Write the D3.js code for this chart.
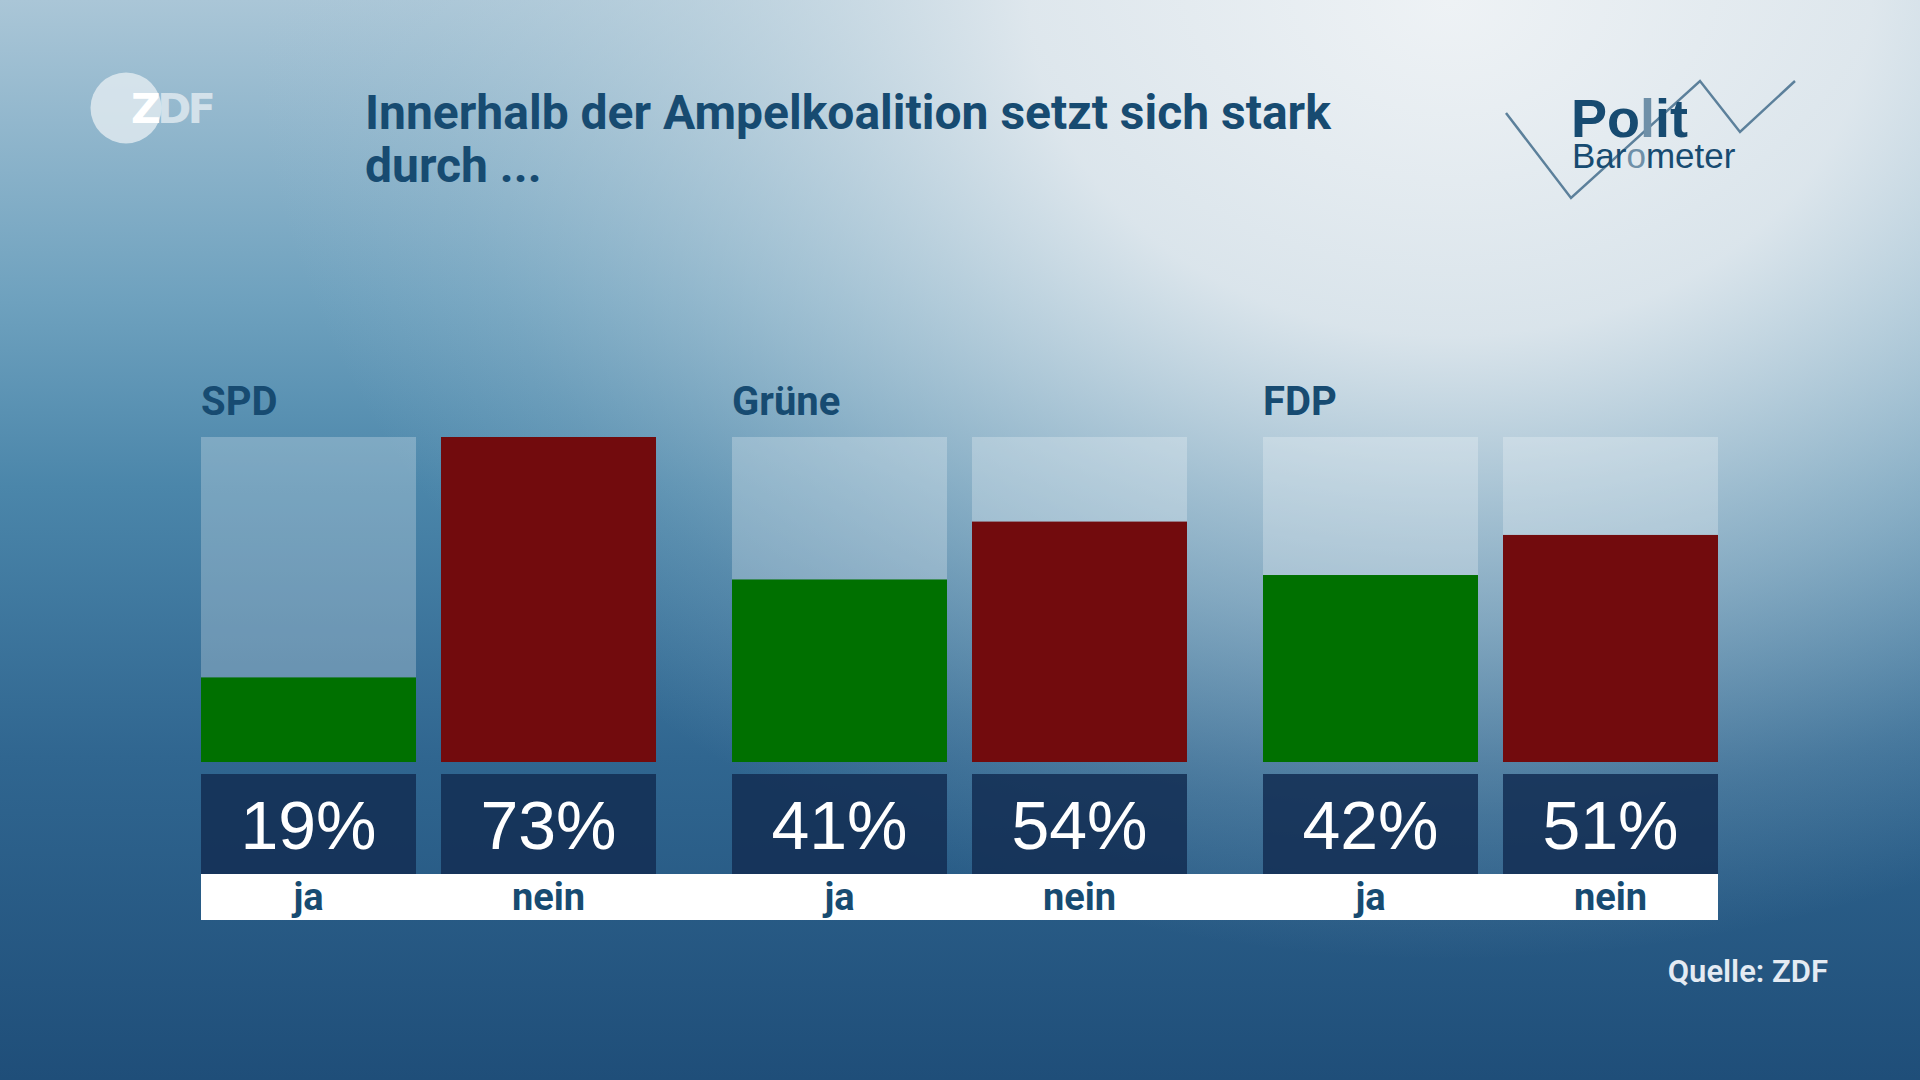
<!DOCTYPE html>
<html>
<head>
<meta charset="utf-8">
<script src="https://cdn.jsdelivr.net/npm/d3@7"></script>
<style>
html,body{margin:0;padding:0;background:#4a83a7;}
svg{display:block;}
</style>
</head>
<body>
<svg id="chart" width="1920" height="1080"></svg>
<script>
// ---- data ----
const parties = ["SPD", "Grüne", "FDP"];
const answers = ["ja", "nein"];
const jaValues = [19, 41, 42];
const neinValues = [73, 54, 51];
const titleLines = ["Innerhalb der Ampelkoalition setzt sich stark", "durch ..."];
const sourceText = "Quelle: ZDF";

const svg = d3.select("#chart");
const W = 1920, H = 1080;
const defs = svg.append("defs");

// background gradients
const base = defs.append("linearGradient").attr("id", "bgBase")
  .attr("x1", 0).attr("y1", 0).attr("x2", 0).attr("y2", 1);
[[0, "#aac6d7"], [0.28, "#6ea1be"], [0.45, "#4b86aa"], [0.7, "#306690"], [1, "#1f4e79"]]
  .forEach(([o, c]) => base.append("stop").attr("offset", o).attr("stop-color", c));

const rad = defs.append("radialGradient").attr("id", "bgGlow")
  .attr("gradientUnits", "userSpaceOnUse")
  .attr("cx", 1450).attr("cy", 0).attr("r", 1200)
  .attr("gradientTransform", "translate(1450,0) scale(1,0.8) translate(-1450,0)");
[[0, "#eef2f5", 1], [0.35, "#e3eaef", 0.92], [0.65, "#c6d8e2", 0.5], [0.85, "#b5cdda", 0.18], [1, "#a9c5d6", 0]]
  .forEach(([o, c, a]) => rad.append("stop").attr("offset", o).attr("stop-color", c).attr("stop-opacity", a));

svg.append("rect").attr("width", W).attr("height", H).attr("fill", "url(#bgBase)");
svg.append("rect").attr("width", W).attr("height", H).attr("fill", "url(#bgGlow)");

const textBlue = "#174b71";

// ---- ZDF logo ----
const logo = svg.append("g");
logo.append("circle").attr("cx", 126).attr("cy", 108).attr("r", 35.5)
  .attr("fill", "#e4ecf1").attr("opacity", 0.8);
logo.append("text").attr("x", 131).attr("y", 123)
  .attr("font-family", "DejaVu Sans").attr("font-weight", 700).attr("font-size", 41)
  .attr("letter-spacing", -3.5)
  .selectAll("tspan").data([["Z", "#ffffff", 1], ["DF", "#e8eff4", 0.75]]).join("tspan")
  .attr("fill", d => d[1]).attr("fill-opacity", d => d[2]).text(d => d[0]);

// ---- title ----
svg.append("g").selectAll("text").data(titleLines).join("text")
  .attr("x", 365).attr("y", (d, i) => 129 + i * 53)
  .attr("font-family", "Roboto").attr("font-weight", 700).attr("font-size", 48)
  .attr("fill", textBlue).text(d => d);

// ---- Politbarometer logo ----
const pb = svg.append("g");
pb.append("polyline")
  .attr("points", [[1506, 113], [1571, 198], [1700, 81], [1740, 132], [1795, 81]].map(p => p.join(",")).join(" "))
  .attr("fill", "none").attr("stroke", "#5c809b").attr("stroke-width", 2.5);
const light = "#6f90a8";
pb.append("text").attr("x", 1571).attr("y", 137)
  .attr("font-family", "Liberation Sans").attr("font-weight", 700).attr("font-size", 54)
  .selectAll("tspan").data([["Po", textBlue], ["l", light], ["it", textBlue]]).join("tspan")
  .attr("fill", d => d[1]).text(d => d[0]);
pb.append("text").attr("x", 1572).attr("y", 168)
  .attr("font-family", "Liberation Sans").attr("font-size", 35)
  .selectAll("tspan").data([["Bar", textBlue], ["o", light], ["meter", textBlue]]).join("tspan")
  .attr("fill", d => d[1]).text(d => d[0]);

// ---- chart ----
const rows = parties.map((p, i) => ({party: p, values: [
  {answer: answers[0], value: jaValues[i], color: "#007000"},
  {answer: answers[1], value: neinValues[i], color: "#720b0d"}
]}));

const x0 = d3.scaleBand().domain(parties).range([201, 1718]).paddingInner(76 / 531).paddingOuter(0);
const x1 = d3.scaleBand().domain(answers).range([0, x0.bandwidth()]).paddingInner(25 / 240).paddingOuter(0);
const maxV = d3.max([...jaValues, ...neinValues]);
const y = d3.scaleLinear().domain([0, maxV]).range([762, 437]);

// white label strip
svg.append("rect").attr("x", x0.range()[0]).attr("y", 874)
  .attr("width", x0.range()[1] - x0.range()[0]).attr("height", 46).attr("fill", "#ffffff");

const groups = svg.append("g").selectAll("g").data(rows).join("g")
  .attr("transform", d => `translate(${x0(d.party)},0)`);

groups.append("text").attr("x", 0).attr("y", 415)
  .attr("font-family", "Roboto").attr("font-weight", 700).attr("font-size", 40)
  .attr("fill", textBlue).text(d => d.party);

const bars = groups.selectAll("g.bar").data(d => d.values).join("g").attr("class", "bar")
  .attr("transform", d => `translate(${x1(d.answer)},0)`);

bars.append("rect").attr("x", 0).attr("y", y(maxV)).attr("width", x1.bandwidth())
  .attr("height", y(0) - y(maxV)).attr("fill", "#ffffff").attr("fill-opacity", 0.25);
bars.append("rect").attr("x", 0).attr("y", d => y(d.value)).attr("width", x1.bandwidth())
  .attr("height", d => y(0) - y(d.value)).attr("fill", d => d.color);
bars.append("rect").attr("x", 0).attr("y", 774).attr("width", x1.bandwidth()).attr("height", 100)
  .attr("fill", "#132f54").attr("fill-opacity", 0.88);
bars.append("text").attr("x", x1.bandwidth() / 2).attr("y", 849).attr("text-anchor", "middle")
  .attr("font-family", "Liberation Sans").attr("font-size", 68).attr("fill", "#ffffff")
  .text(d => d.value + "%");
bars.append("text").attr("x", x1.bandwidth() / 2).attr("y", 910).attr("text-anchor", "middle")
  .attr("font-family", "Roboto").attr("font-weight", 700).attr("font-size", 38).attr("fill", textBlue)
  .text(d => d.answer);

// source
svg.append("text").attr("x", 1828).attr("y", 982).attr("text-anchor", "end")
  .attr("font-family", "Roboto").attr("font-weight", 600).attr("font-size", 31)
  .attr("fill", "#e4ebf3").text(sourceText);
</script>
</body>
</html>
